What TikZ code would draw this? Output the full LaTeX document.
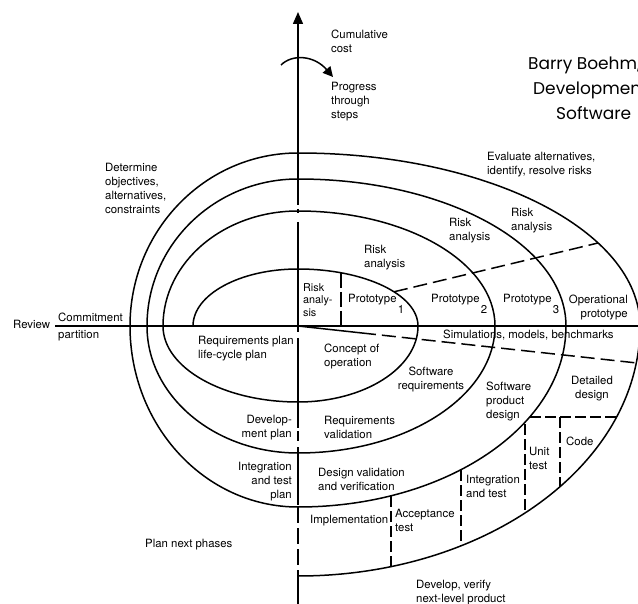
\documentclass[tikz,border=0pt]{standalone}
\usepackage{fontspec}
\setmainfont{TeX Gyre Heros}
\newfontfamily\titlefont{Poppins}
\usetikzlibrary{arrows.meta}

\begin{document}
\begin{tikzpicture}[x=1pt,y=1pt,
  curve/.style={line width=1.5pt, line join=round, line cap=round},
  axisline/.style={line width=1.5pt},
  longdash/.style={line width=1.5pt, dash pattern=on 14pt off 6pt},
  boxdash/.style={line width=1.3pt, dash pattern=on 11pt off 4pt},
  lbl/.style={inner sep=0pt, font=\fontsize{11.4}{14}\selectfont, align=left},
  small/.style={inner sep=0pt, font=\fontsize{10.8}{12.5}\selectfont, align=left},
  title/.style={inner sep=0pt, font=\titlefont\fontsize{17}{25}\selectfont, anchor=base west}
]
\useasboundingbox (0,0) rectangle (638,-604);
\fill[white] (0,0) rectangle (638,-604);
\clip (0,0) rectangle (638,-604);

% ---- axes ----
\coordinate (O) at (298,-326);
\coordinate (hl) at (55,-326);
\coordinate (hr) at (645,-326);
\draw[axisline] (hl) -- (hr);

\coordinate (vtop) at (298,-12);
\coordinate (va) at (298,-205);
\draw[axisline, {Triangle[length=12pt,width=10pt]}-] (vtop) -- (va);
\draw[axisline] (298,-209) -- (298,-213);
\draw[axisline] (298,-222) -- (298,-332);
\draw[axisline] (298,-338) -- (298,-428);
\draw[axisline] (298,-431) -- (298,-441);
\draw[axisline] (298,-447) -- (298,-505);
\coordinate (vb1) at (298,-507);
\coordinate (vb2) at (298,-573);
\coordinate (vbot) at (298,-604);
\draw[axisline, dash pattern=on 16pt off 5pt] (vb1) -- (vb2);
\draw[axisline] (vb2) -- (vbot);

% rotation arrow
\coordinate (ra) at (281,-65);
\coordinate (rb) at (333,-77);
\draw[line width=1.5pt, -{Triangle[length=10pt,width=10pt]}]
  (ra) .. controls (292,-54) and (314,-55) .. (rb);

% ---- the spiral ----
\coordinate (s0) at (193,-326);
\draw[curve] (s0)
  arc[start angle=180, end angle=90, x radius=105, y radius=57]
  arc[start angle=90, end angle=0, x radius=120, y radius=57]
  arc[start angle=0, end angle=-90, x radius=120, y radius=76]
  arc[start angle=-90, end angle=-180, x radius=135, y radius=76]
  arc[start angle=180, end angle=90, x radius=135, y radius=115]
  arc[start angle=90, end angle=0, x radius=197, y radius=115]
  arc[start angle=0, end angle=-90, x radius=197, y radius=127]
  arc[start angle=-90, end angle=-180, x radius=151, y radius=127]
  arc[start angle=180, end angle=90, x radius=151, y radius=147]
  arc[start angle=90, end angle=0, x radius=268, y radius=147]
  arc[start angle=0, end angle=-90, x radius=268, y radius=181]
  arc[start angle=-90, end angle=-180, x radius=168, y radius=181]
  arc[start angle=180, end angle=90, x radius=168, y radius=173]
  arc[start angle=90, end angle=0, x radius=342, y radius=173]
  arc[start angle=0, end angle=-90, x radius=342, y radius=250];

% ---- dashed partitions ----
\coordinate (ua) at (394,-291.8);
\coordinate (ub) at (598,-243);
\draw[longdash] (ua) -- (ub);

\coordinate (la) at (362,-333);
\coordinate (lb) at (637,-363);
\draw[line width=1.5pt] (O) -- (la);
\draw[longdash] (la) -- (lb);

\coordinate (ia) at (341,-273);
\coordinate (ib) at (341,-326);
\draw[line width=1.3pt, dash pattern=on 15pt off 4pt] (ia) -- (ib);

\coordinate (dh1) at (530,-417);
\coordinate (dh2) at (616.5,-417);
\draw[boxdash] (dh1) -- (dh2);
\coordinate (cd1) at (560,-417);
\coordinate (cd2) at (560,-486.7);
\draw[boxdash] (cd1) -- (cd2);
\coordinate (ut1) at (525,-424);
\coordinate (ut2) at (525,-513);
\draw[boxdash] (ut1) -- (ut2);
\coordinate (it1) at (461,-470);
\coordinate (it2) at (461,-546);
\draw[boxdash] (it1) -- (it2);
\coordinate (at1) at (391,-496);
\coordinate (at2) at (391,-567);
\draw[boxdash] (at1) -- (at2);

% ---- labels ----
\node[lbl, anchor=north west] (cum) at (331,-30) {Cumulative\\cost};
\node[lbl, anchor=north west] (prog) at (331,-82) {Progress\\through\\steps};
\node[lbl, anchor=north west] (det) at (105,-163) {Determine\\objectives,\\alternatives,\\constraints};
\node[lbl, anchor=north west] (eval) at (487,-152) {Evaluate alternatives,\\identify, resolve risks};
\node[lbl, anchor=north west] (risk4) at (511,-208) {Risk\\analysis};
\node[lbl, anchor=north west] (risk3) at (449,-218) {Risk\\analysis};
\node[lbl, anchor=north west] (risk2) at (364,-245) {Risk\\analysis};
\node[small, anchor=north west] (risk1) at (303,-283) {Risk\\analy-\\sis};

\node[lbl, anchor=north west] (p1) at (348,-294) {Prototype};
\node[lbl, anchor=north west] (p1n) at ([shift={(1,-11)}]p1.north east) {1};
\node[lbl, anchor=north west] (p2) at (431,-294) {Prototype};
\node[lbl, anchor=north west] (p2n) at ([shift={(1,-11)}]p2.north east) {2};
\node[lbl, anchor=north west] (p3) at (503,-294) {Prototype};
\node[lbl, anchor=north west] (p3n) at ([shift={(1,-11)}]p3.north east) {3};
\node[lbl, anchor=north east, align=right] (oper) at (628,-295) {Operational\\prototype};

\node[lbl, anchor=base west] (review) at (13,-329) {Review};
\node[lbl, anchor=base west] (commit) at (58,-322) {Commitment};
\node[lbl, anchor=base west] (part) at (58,-339) {partition};
\node[lbl, anchor=base west] (sim) at (443,-339) {Simulations, models, benchmarks};

\node[lbl, anchor=north west] (reqplan) at (198,-336) {Requirements plan\\life-cycle plan};
\node[lbl, anchor=north west] (concept) at (324,-344) {Concept of\\operation};
\node[lbl, anchor=north, align=center] (swreq) at (431,-367) {Software\\requirements};
\node[lbl, anchor=north west] (swprod) at (486,-382) {Software\\product\\design};
\node[lbl, anchor=north, align=center] (detail) at (592,-376) {Detailed\\design};
\node[lbl, anchor=north west] (code) at (566,-437) {Code};
\node[lbl, anchor=north west] (unit) at (529,-447) {Unit\\test};
\node[lbl, anchor=north west] (integ) at (466,-475) {Integration\\and test};
\node[lbl, anchor=north west] (accept) at (395,-509) {Acceptance\\test};
\node[lbl, anchor=north west] (impl) at (310,-515) {Implementation};
\node[lbl, anchor=north west] (dvv) at (318,-468) {Design validation\\and verification};
\node[lbl, anchor=north west] (reqval) at (324,-416) {Requirements\\validation};
\node[lbl, anchor=north east, align=right] (devplan) at (292,-415) {Develop-\\ment plan};
\node[lbl, anchor=north east, align=right] (itp) at (292,-462) {Integration\\and test\\plan};
\node[lbl, anchor=north west] (plannext) at (145,-539) {Plan next phases};
\node[lbl, anchor=north west] (devver) at (416,-580) {Develop, verify\\next-level product};

% ---- heading ----
\node[title] (t1) at (528,-70) {Barry Boehm,};
\node[title] (t2) at (533,-95) {Development};
\node[title] (t3) at (556,-120) {Software};
\end{tikzpicture}
\end{document}
